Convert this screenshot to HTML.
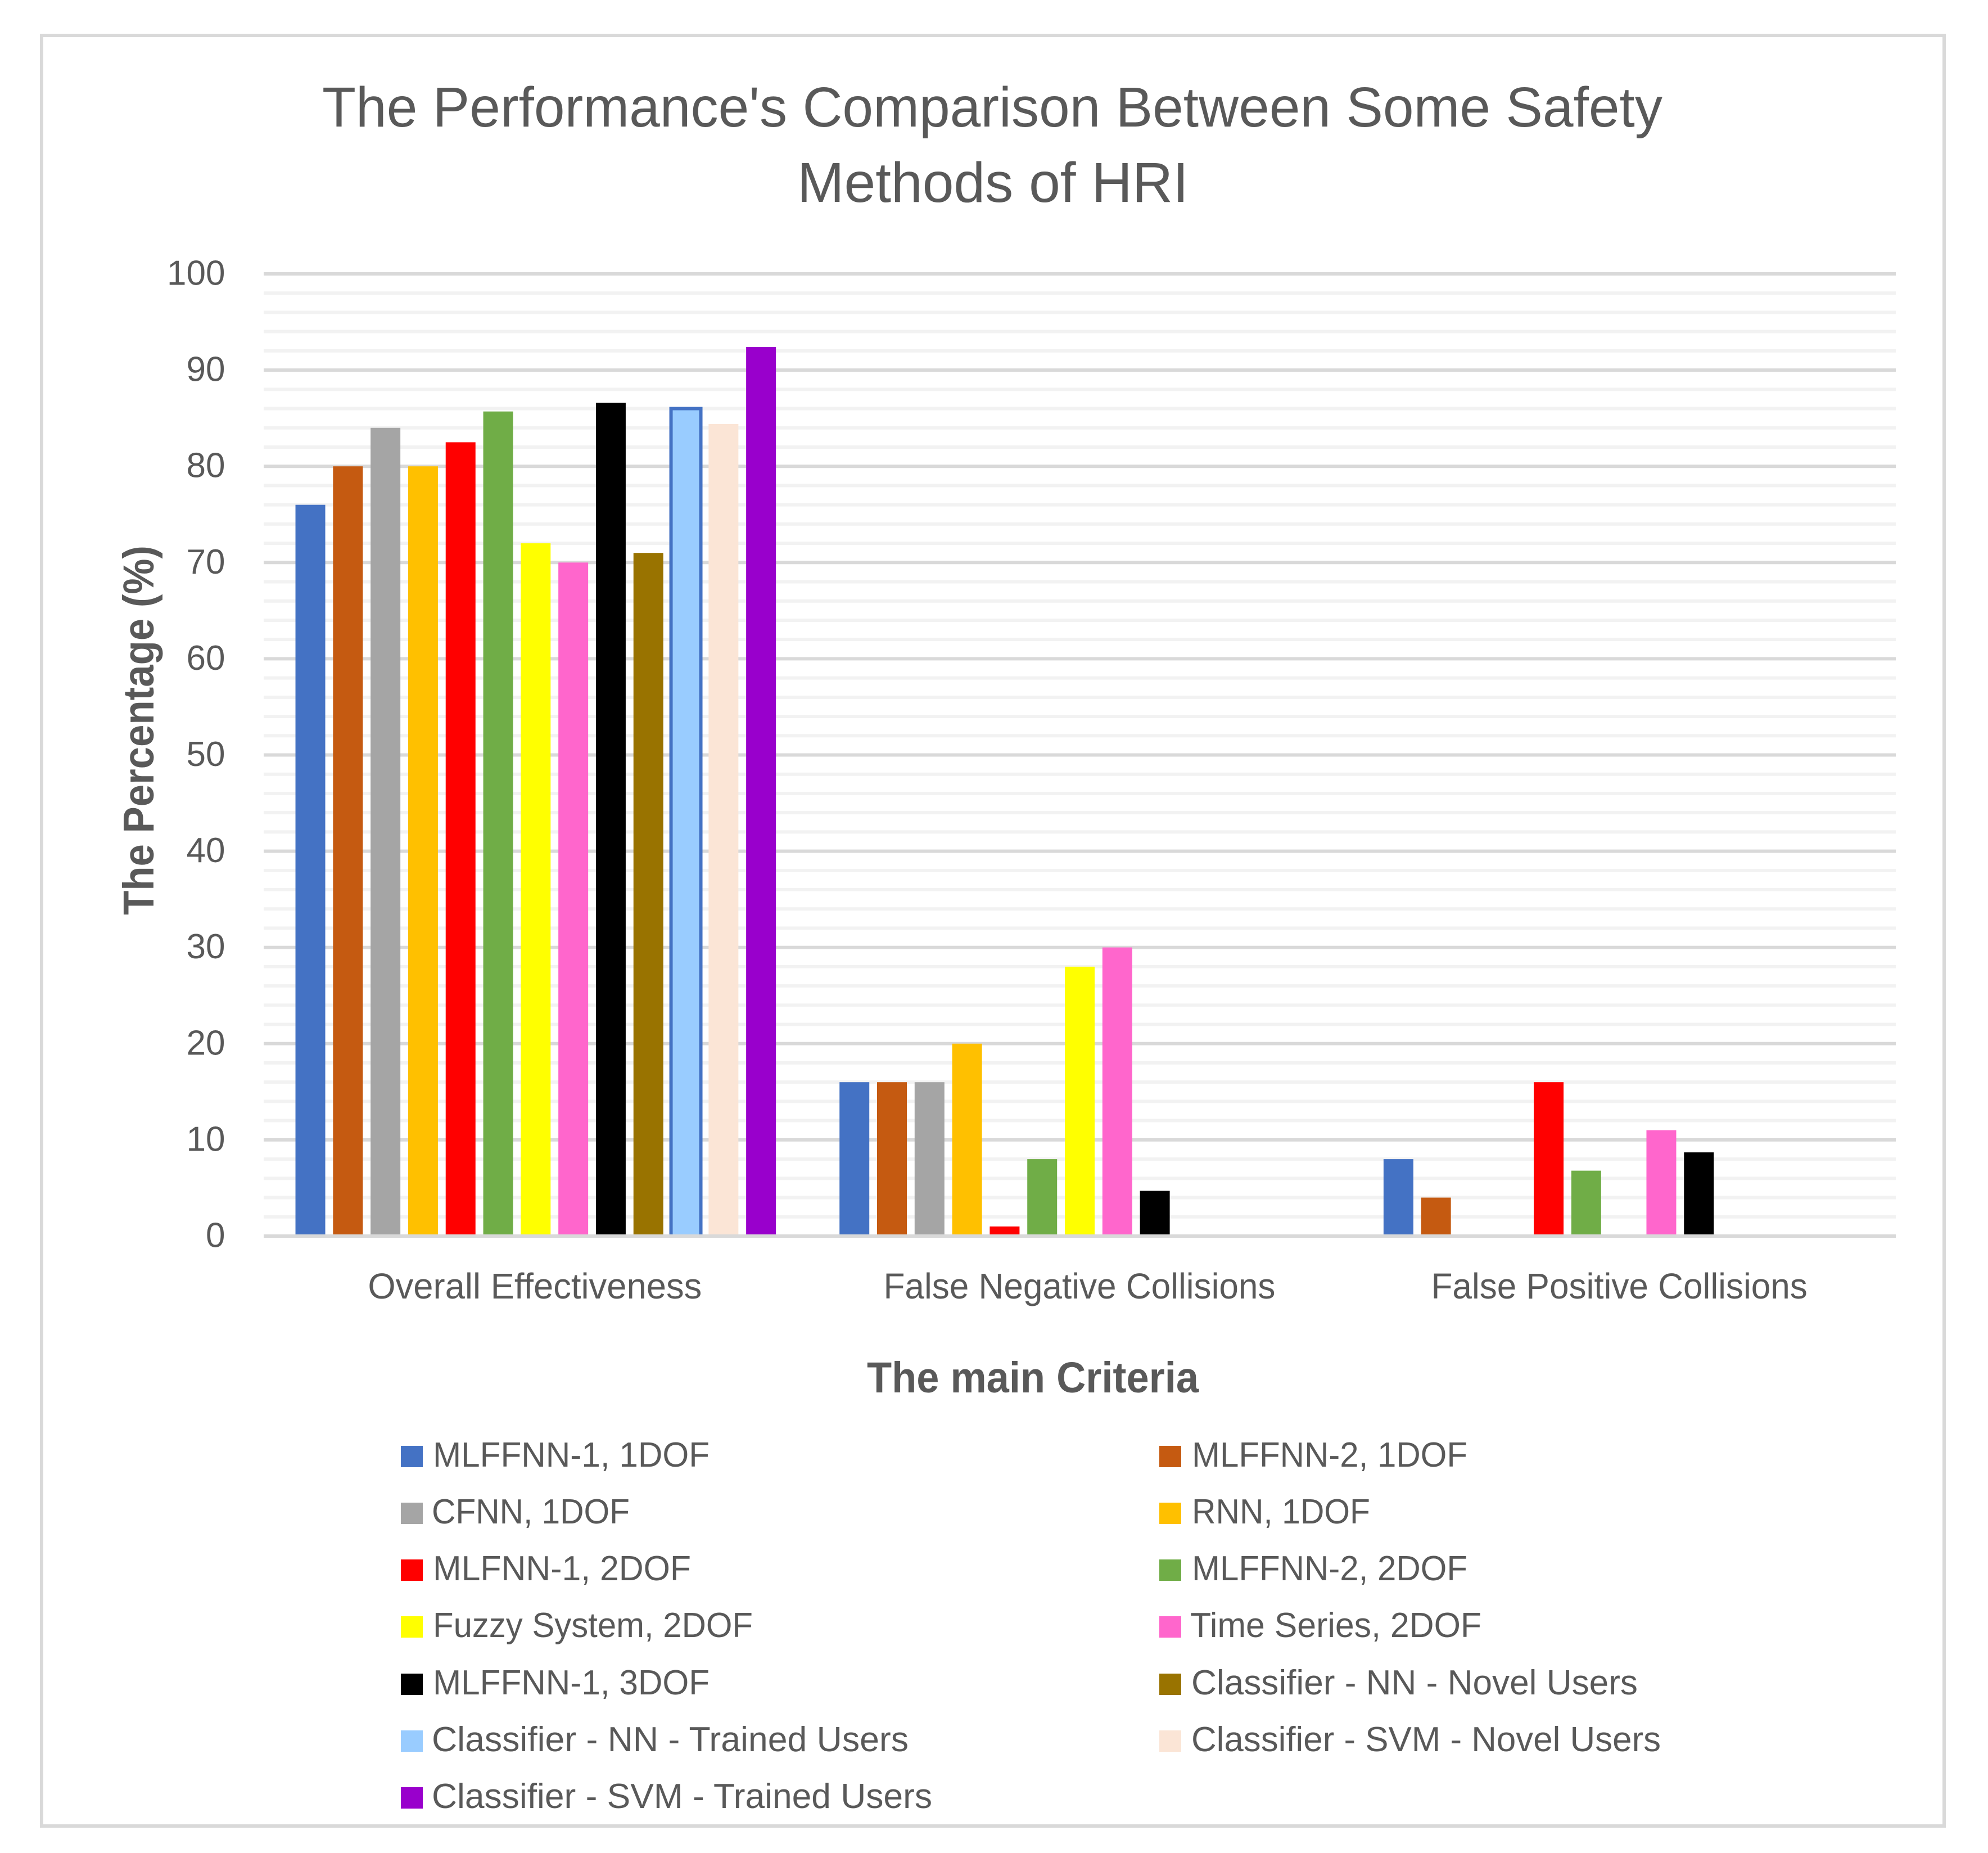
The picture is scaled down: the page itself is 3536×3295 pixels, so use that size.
<!DOCTYPE html>
<html lang="en">
<head>
<meta charset="utf-8">
<title>The Performance's Comparison Between Some Safety Methods of HRI</title>
<style>
  html, body { margin: 0; padding: 0; background: #ffffff; }
  body { width: 3536px; height: 3295px; overflow: hidden; }
  svg { display: block; }
  text { font-family: "Liberation Sans", sans-serif; fill: #595959; }
  .title { font-size: 100px; }
  .axis-title { font-size: 77px; font-weight: bold; }
  .legend-text { font-size: 62px; }
</style>
</head>
<body>
<svg id="chart" xmlns="http://www.w3.org/2000/svg" width="3536" height="3295" viewBox="0 0 3536 3295">
  <rect x="0" y="0" width="3536" height="3295" fill="#ffffff"/>
  <rect x="74" y="63" width="3384" height="3184" fill="#ffffff" stroke="#d9d9d9" stroke-width="6"/>

  <text class="title" x="573" y="225" textLength="2384" lengthAdjust="spacingAndGlyphs">The Performance's Comparison Between Some Safety</text>
  <text class="title" x="1418" y="359" textLength="696" lengthAdjust="spacingAndGlyphs">Methods of HRI</text>

  <g id="grid"></g>
  <g id="bars"></g>
  <g id="axis"></g>
  <g id="y-ticks"></g>
  <g id="x-labels"></g>

  <text class="axis-title" transform="translate(273,1627) rotate(-90)" x="0" y="0" textLength="657" lengthAdjust="spacingAndGlyphs">The Percentage (%)</text>
  <text class="axis-title" x="1542" y="2476" textLength="590" lengthAdjust="spacingAndGlyphs">The main Criteria</text>

  <g>
    <g>
      <rect x="713" y="2571" width="39" height="38" fill="#4472c4"/>
      <text class="legend-text" x="770" y="2608" textLength="492" lengthAdjust="spacingAndGlyphs">MLFFNN-1, 1DOF</text>
    </g>
    <g>
      <rect x="2062" y="2571" width="39" height="38" fill="#c55a11"/>
      <text class="legend-text" x="2120" y="2608" textLength="490" lengthAdjust="spacingAndGlyphs">MLFFNN-2, 1DOF</text>
    </g>
    <g>
      <rect x="713" y="2672" width="39" height="38" fill="#a5a5a5"/>
      <text class="legend-text" x="768" y="2709" textLength="352" lengthAdjust="spacingAndGlyphs">CFNN, 1DOF</text>
    </g>
    <g>
      <rect x="2062" y="2672" width="39" height="38" fill="#ffc000"/>
      <text class="legend-text" x="2120" y="2709" textLength="317" lengthAdjust="spacingAndGlyphs">RNN, 1DOF</text>
    </g>
    <g>
      <rect x="713" y="2773" width="39" height="38" fill="#ff0000"/>
      <text class="legend-text" x="770" y="2810" textLength="459" lengthAdjust="spacingAndGlyphs">MLFNN-1, 2DOF</text>
    </g>
    <g>
      <rect x="2062" y="2773" width="39" height="38" fill="#70ad47"/>
      <text class="legend-text" x="2120" y="2810" textLength="490" lengthAdjust="spacingAndGlyphs">MLFFNN-2, 2DOF</text>
    </g>
    <g>
      <rect x="713" y="2874" width="39" height="38" fill="#ffff00"/>
      <text class="legend-text" x="770" y="2911" textLength="569" lengthAdjust="spacingAndGlyphs">Fuzzy System, 2DOF</text>
    </g>
    <g>
      <rect x="2062" y="2874" width="39" height="38" fill="#ff66cc"/>
      <text class="legend-text" x="2117" y="2911" textLength="518" lengthAdjust="spacingAndGlyphs">Time Series, 2DOF</text>
    </g>
    <g>
      <rect x="713" y="2976" width="39" height="38" fill="#000000"/>
      <text class="legend-text" x="770" y="3013" textLength="492" lengthAdjust="spacingAndGlyphs">MLFFNN-1, 3DOF</text>
    </g>
    <g>
      <rect x="2062" y="2976" width="39" height="38" fill="#997300"/>
      <text class="legend-text" x="2119" y="3013" textLength="794" lengthAdjust="spacingAndGlyphs">Classifier - NN - Novel Users</text>
    </g>
    <g>
      <rect x="713" y="3077" width="39" height="38" fill="#99ccff"/>
      <text class="legend-text" x="768" y="3114" textLength="848" lengthAdjust="spacingAndGlyphs">Classifier - NN - Trained Users</text>
    </g>
    <g>
      <rect x="2062" y="3077" width="39" height="38" fill="#fbe5d6"/>
      <text class="legend-text" x="2119" y="3114" textLength="835" lengthAdjust="spacingAndGlyphs">Classifier - SVM - Novel Users</text>
    </g>
    <g>
      <rect x="713" y="3178" width="39" height="38" fill="#9900cc"/>
      <text class="legend-text" x="768" y="3215" textLength="890" lengthAdjust="spacingAndGlyphs">Classifier - SVM - Trained Users</text>
    </g>
  </g>
</svg>

<script>
// Chart data: one value per category; null means no bar is shown.
const categories = ['Overall Effectiveness', 'False Negative Collisions', 'False Positive Collisions'];
const yTickLabels = [0, 10, 20, 30, 40, 50, 60, 70, 80, 90, 100];

const mlffnn1Dof1 = [76, 16, 8];
const mlffnn2Dof1 = [80, 16, 4];
const cfnnDof1 = [84, 16, null];
const rnnDof1 = [80, 20, null];
const mlfnn1Dof2 = [82.5, 1, 16];
const mlffnn2Dof2 = [85.7, 8, 6.8];
const fuzzySystemDof2 = [72, 28, null];
const timeSeriesDof2 = [70, 30, 11];
const mlffnn1Dof3 = [86.6, 4.7, 8.7];
const classifierNnNovel = [71, null, null];
const classifierNnTrained = [86, null, null];
const classifierSvmNovel = [84.4, null, null];
const classifierSvmTrained = [92.4, null, null];

const SVG_NS = 'http://www.w3.org/2000/svg';

const plot = { left: 469, right: 3372, zeroY: 2198, topY: 487 };
const yMax = 100;
const minorStep = 2;
const barWidth = 53;
const barPitch = 66.8;

// Text fitting for the category labels (the source font has different advance widths).
const categoryLabelFit = {
  'Overall Effectiveness': { fit: 0.99, shift: -1.5 },
  'False Negative Collisions': { fit: 0.97, shift: -0.5 },
  'False Positive Collisions': { fit: 0.97, shift: -8 }
};

function yScale(value) {
  return plot.zeroY - (value / yMax) * (plot.zeroY - plot.topY);
}
function bandWidth() {
  return (plot.right - plot.left) / categories.length;
}
function bandCenter(categoryIndex) {
  return plot.left + bandWidth() * (categoryIndex + 0.5);
}

const allSeries = [
  { key: 'mlffnn-1-1dof', values: mlffnn1Dof1, fill: '#4472c4' },
  { key: 'mlffnn-2-1dof', values: mlffnn2Dof1, fill: '#c55a11' },
  { key: 'cfnn-1dof', values: cfnnDof1, fill: '#a5a5a5' },
  { key: 'rnn-1dof', values: rnnDof1, fill: '#ffc000' },
  { key: 'mlfnn-1-2dof', values: mlfnn1Dof2, fill: '#ff0000' },
  { key: 'mlffnn-2-2dof', values: mlffnn2Dof2, fill: '#70ad47' },
  { key: 'fuzzy-system-2dof', values: fuzzySystemDof2, fill: '#ffff00' },
  { key: 'time-series-2dof', values: timeSeriesDof2, fill: '#ff66cc' },
  { key: 'mlffnn-1-3dof', values: mlffnn1Dof3, fill: '#000000' },
  { key: 'classifier-nn-novel-users', values: classifierNnNovel, fill: '#997300' },
  { key: 'classifier-nn-trained-users', values: classifierNnTrained, fill: '#99ccff', stroke: '#4472c4' },
  { key: 'classifier-svm-novel-users', values: classifierSvmNovel, fill: '#fbe5d6' },
  { key: 'classifier-svm-trained-users', values: classifierSvmTrained, fill: '#9900cc' }
];

function barX(categoryIndex, seriesIndex) {
  const groupWidth = barPitch * (allSeries.length - 1) + barWidth;
  return bandCenter(categoryIndex) - groupWidth / 2 + barPitch * seriesIndex;
}

function hLine(parent, value, color) {
  const el = document.createElementNS(SVG_NS, 'line');
  el.setAttribute('x1', plot.left);
  el.setAttribute('x2', plot.right);
  el.setAttribute('y1', yScale(value));
  el.setAttribute('y2', yScale(value));
  el.setAttribute('stroke', color);
  el.setAttribute('stroke-width', 6);
  parent.appendChild(el);
  return el;
}

// Gridlines: minor first, major above.
const gridGroup = document.getElementById('grid');
for (let v = minorStep; v <= yMax; v += minorStep) {
  if (v % 10 === 0) continue;
  const minorLine = hLine(gridGroup, v, '#f2f2f2');
  
  
}
yTickLabels.forEach(function (tick) {
  if (tick === 0) return;
  const majorLine = hLine(gridGroup, tick, '#d9d9d9');
  
  
});

// Bars.
const barsGroup = document.getElementById('bars');
allSeries.forEach(function (series, seriesIndex) {
  series.values.forEach(function (value, categoryIndex) {
    if (value === null || value === undefined) return;
    const bar = document.createElementNS(SVG_NS, 'rect');
    
    
    bar.setAttribute('x', barX(categoryIndex, seriesIndex));
    bar.setAttribute('y', yScale(value));
    bar.setAttribute('width', barWidth);
    bar.setAttribute('height', yScale(0) - yScale(value));
    bar.setAttribute('fill', series.fill);
    if (series.stroke) {
      bar.setAttribute('stroke', series.stroke);
      bar.setAttribute('stroke-width', 6);
    }
    barsGroup.appendChild(bar);
  });
});

// Baseline sits above the bars.
const baseLine = hLine(document.getElementById('axis'), 0, '#d9d9d9');



// Y tick labels.
const yTickGroup = document.getElementById('y-ticks');
yTickLabels.forEach(function (tick) {
  const label = document.createElementNS(SVG_NS, 'text');
  
  
  label.setAttribute('font-size', 62);
  label.textContent = String(tick);
  yTickGroup.appendChild(label);
  const fitted = label.getComputedTextLength();
  label.setAttribute('textLength', fitted);
  label.setAttribute('lengthAdjust', 'spacingAndGlyphs');
  label.setAttribute('x', 400.5 - fitted);
  label.setAttribute('y', yScale(tick) + 19.5);
});

// Category labels.
const xLabelGroup = document.getElementById('x-labels');
categories.forEach(function (name, categoryIndex) {
  const label = document.createElementNS(SVG_NS, 'text');
  
  
  label.setAttribute('font-size', 64);
  label.textContent = name;
  xLabelGroup.appendChild(label);
  const adjust = categoryLabelFit[name] || { fit: 0.98, shift: 0 };
  const fitted = label.getComputedTextLength() * adjust.fit;
  label.setAttribute('textLength', fitted);
  label.setAttribute('lengthAdjust', 'spacingAndGlyphs');
  label.setAttribute('x', bandCenter(categoryIndex) + adjust.shift - fitted / 2);
  label.setAttribute('y', 2309);
});
</script>
</body>
</html>
